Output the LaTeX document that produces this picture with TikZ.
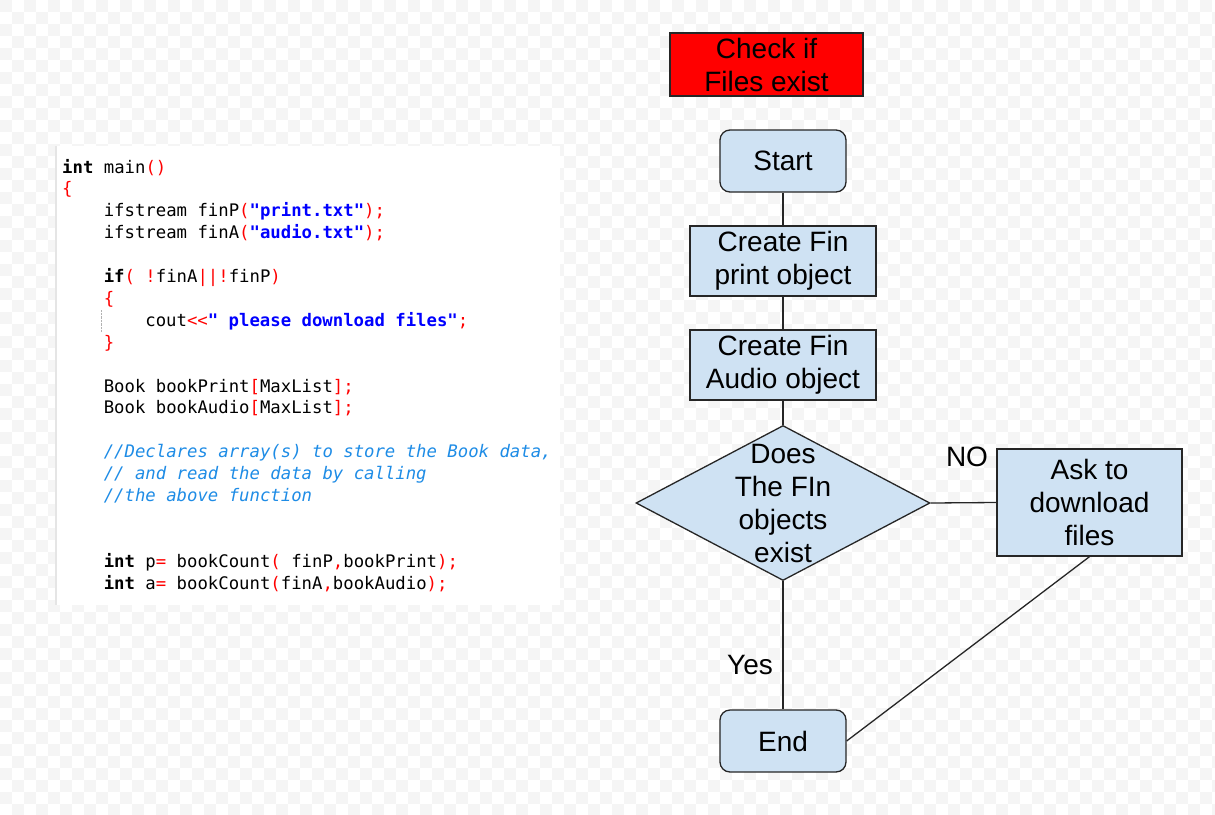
\documentclass[tikz,border=0pt]{standalone}
\usepackage{fontspec}
\setmainfont{Liberation Sans}
\setmonofont{DejaVu Sans Mono}
\usetikzlibrary{shapes.geometric}
\definecolor{boxblue}{RGB}{207,226,243}
\definecolor{codecm}{RGB}{30,140,230}
\definecolor{codestr}{RGB}{0,0,255}
\definecolor{codeop}{RGB}{255,0,0}
\newcommand\codekw[1]{\textbf{#1}}
\newcommand\codestr[1]{\textcolor{codestr}{\textbf{#1}}}
\newcommand\codeop[1]{\textcolor{codeop}{#1}}
\newcommand\codecm[1]{\textcolor{codecm}{\itshape #1}}
\tikzset{
	flow/.style={draw=black!85,line width=1.3pt,fill=boxblue,align=center,inner sep=0pt,
		font=\fontsize{28}{33}\selectfont},
	termbox/.style={flow,rounded corners=10pt,minimum width=126,minimum height=62},
	actbox/.style={flow,minimum width=186,minimum height=70},
	link/.style={draw=black!85,line width=1.3pt},
	codeline/.style={anchor=base west,inner sep=0pt,font=\ttfamily\fontsize{17.3}{22}\selectfont}
}
\begin{document}
\begin{tikzpicture}[x=1pt,y=-1pt]
		\useasboundingbox (0,0) rectangle (1215,814);
		% checkered background
		\fill[white] (0,0) rectangle (1215,814);
		\foreach \j in {0,...,67}
		\foreach \i in {0,2,...,100}
		\fill[black!4] ({\i*12+mod(\j,2)*12},{\j*12}) rectangle ++(12,12);
		% code panel
		\fill[white] (56,146) rectangle (560,605);
		\fill[black!10] (55,146) rectangle (57,605);
		\draw[black!30,densely dotted] (101,310) -- (101,332);
		\foreach \k/\ind/\t in {
				0/0/{\codekw{int} main\codeop{()}},
				1/0/{\codeop{\{}},
				2/4/{ifstream finP\codeop{(}\codestr{"print.txt"}\codeop{);}},
				3/4/{ifstream finA\codeop{(}\codestr{"audio.txt"}\codeop{);}},
				5/4/{\codekw{if}\codeop{(} \codeop{!}finA\codeop{||!}finP\codeop{)}},
				6/4/{\codeop{\{}},
				7/8/{cout\codeop{<<}\codestr{" please download files"}\codeop{;}},
				8/4/{\codeop{\}}},
				10/4/{Book bookPrint\codeop{[}MaxList\codeop{];}},
				11/4/{Book bookAudio\codeop{[}MaxList\codeop{];}},
				13/4/{\codecm{//Declares array(s) to store the Book data,}},
				14/4/{\codecm{// and read the data by calling}},
				15/4/{\codecm{//the above function}},
				18/4/{\codekw{int} p\codeop{=} bookCount\codeop{(} finP\codeop{,}bookPrint\codeop{);}},
				19/4/{\codekw{int} a\codeop{=} bookCount\codeop{(}finA\codeop{,}bookAudio\codeop{);}}
			}
		\node[codeline] (code\k) at ({62+\ind*10.4},{173+\k*21.9}) {\t};
		% flow chart
		\node[flow,fill=red,minimum width=193,minimum height=63] (check) at (766.5,64.5) {Check if\\Files exist};
		\node[termbox] (start) at (783,161) {Start};
		\node[actbox] (print) at (783,261) {Create Fin\\print object};
		\node[actbox] (audio) at (783,365) {Create Fin\\Audio object};
		\node[flow,diamond,minimum width=294,minimum height=155,
			label={[align=center,font=\fontsize{28}{33}\selectfont]center:Does\\The FIn\\objects\\exist}] (exist) at (783,503) {};
		\node[flow,minimum width=185,minimum height=107] (ask) at (1089.5,502.5) {Ask to\\download\\files};
		\node[termbox] (end) at (783,741) {End};
		\node[font=\fontsize{28}{33}\selectfont] (no) at (967,457) {NO};
		\node[font=\fontsize{28}{33}\selectfont] (yes) at (750,665) {Yes};
		\draw[link] (start) -- (print);
		\draw[link] (print) -- (audio);
		\draw[link] (audio) -- (exist.north);
		\draw[link] (exist.south) -- (end);
		\draw[link] (exist.east) -- (ask.west);
		\draw[link] (ask.south) -- (end.east);
	\end{tikzpicture}
\end{document}
